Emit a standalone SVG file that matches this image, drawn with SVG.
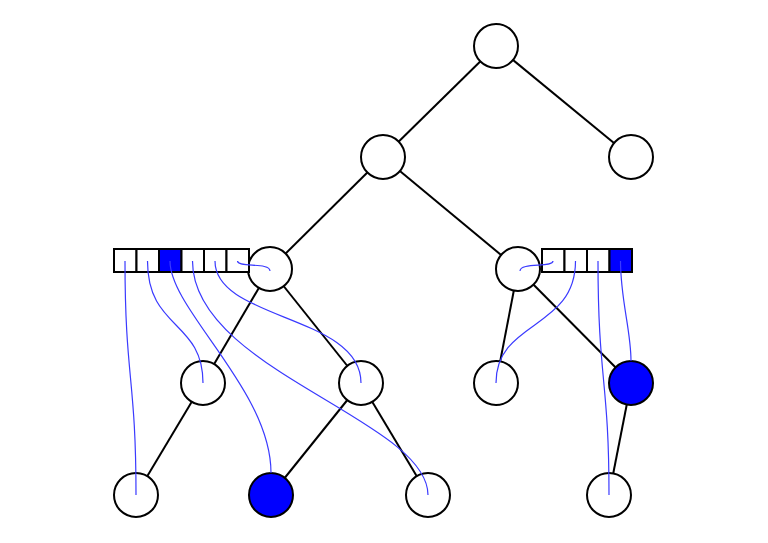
<svg xmlns="http://www.w3.org/2000/svg" width="768" height="543" viewBox="0 0 768 543">
<style>
.edge{stroke:#000;stroke-width:2;fill:none}
.node{fill:#fff;stroke:#000;stroke-width:2}
.hit{fill:#0000ff;stroke:#000;stroke-width:2}
.cell{fill:#fff;stroke:#000;stroke-width:2}
.cellhit{fill:#0000ff;stroke:#000;stroke-width:2}
.ptr{stroke:#3a3aff;stroke-width:1.2;fill:none}
</style>
<rect width="768" height="543" fill="#fff"/>
<g id="edges">
<line class="edge" x1="496" y1="46" x2="383" y2="157"/>
<line class="edge" x1="496" y1="46" x2="631" y2="157"/>
<line class="edge" x1="383" y1="157" x2="270" y2="269"/>
<line class="edge" x1="383" y1="157" x2="518" y2="269"/>
<line class="edge" x1="270" y1="269" x2="203" y2="383"/>
<line class="edge" x1="270" y1="269" x2="361" y2="383"/>
<line class="edge" x1="203" y1="383" x2="136" y2="495"/>
<line class="edge" x1="361" y1="383" x2="271" y2="495"/>
<line class="edge" x1="361" y1="383" x2="428" y2="495"/>
<line class="edge" x1="518" y1="269" x2="496" y2="383"/>
<line class="edge" x1="518" y1="269" x2="631" y2="383"/>
<line class="edge" x1="631" y1="383" x2="609" y2="495"/>
</g>
<g id="n-root"><circle class="node" cx="496" cy="46" r="22"/></g>
<g id="n-a"><circle class="node" cx="383" cy="157" r="22"/></g>
<g id="n-b"><circle class="node" cx="631" cy="157" r="22"/></g>
<g id="n-l"><circle class="node" cx="270" cy="269" r="22"/></g>
<g id="n-r"><circle class="node" cx="518" cy="269" r="22"/></g>
<g id="n-l1"><circle class="node" cx="203" cy="383" r="22"/></g>
<g id="n-l2"><circle class="node" cx="361" cy="383" r="22"/></g>
<g id="n-r1"><circle class="node" cx="496" cy="383" r="22"/></g>
<g id="n-r2"><circle class="hit" cx="631" cy="383" r="22"/></g>
<g id="n-b1"><circle class="node" cx="136" cy="495" r="22"/></g>
<g id="n-b2"><circle class="hit" cx="271" cy="495" r="22"/></g>
<g id="n-b3"><circle class="node" cx="428" cy="495" r="22"/></g>
<g id="n-b4"><circle class="node" cx="609" cy="495" r="22"/></g>
<g id="arr-left">
<rect class="cell" x="114" y="249" width="22.5" height="23"/>
<rect class="cell" x="136.5" y="249" width="22.5" height="23"/>
<rect class="cellhit" x="159" y="249" width="22.5" height="23"/>
<rect class="cell" x="181.5" y="249" width="22.5" height="23"/>
<rect class="cell" x="204" y="249" width="22.5" height="23"/>
<rect class="cell" x="226.5" y="249" width="22.5" height="23"/>
</g>
<g id="arr-right">
<rect class="cell" x="542" y="249" width="22.5" height="23"/>
<rect class="cell" x="564.5" y="249" width="22.5" height="23"/>
<rect class="cell" x="587" y="249" width="22.5" height="23"/>
<rect class="cellhit" x="609.5" y="249" width="22.5" height="23"/>
</g>
<g id="pointers">
<path class="ptr" d="M125,261 C125,378 136,378 136,495"/>
<path class="ptr" d="M147.5,261 C147.5,330 203,320 203,383"/>
<path class="ptr" d="M170,261 C170,310 271,390 271,473"/>
<path class="ptr" d="M192.5,261 C192.5,370 428,420 428,495"/>
<path class="ptr" d="M215,261 C215,320 361,315 361,383"/>
<path class="ptr" d="M237.5,261 C237.5,268 270,262 270,271"/>
<path class="ptr" d="M553,261 C553,268 520,262 520,271"/>
<path class="ptr" d="M575.5,261 C575.5,330 496,320 496,383"/>
<path class="ptr" d="M598,261 C598,380 609,380 609,495"/>
<path class="ptr" d="M620.5,261 C620.5,300 631,330 631,361"/>
</g>
</svg>
